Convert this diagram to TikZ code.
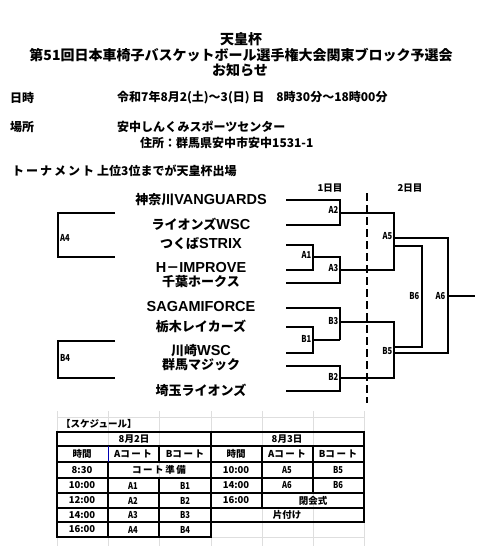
\documentclass[tikz,border=0pt]{standalone}
\usepackage{fontspec}
\usepackage{graphicx}
\setmainfont{Noto Sans CJK JP}
\newfontfamily\latfont{Liberation Sans}
\newcommand\lat[1]{{\latfont\bfseries\fontsize{14.5}{14}\selectfont #1}}
\newcommand\cnd[1]{\scalebox{0.8}[1]{#1}}
\tikzset{
  titletext/.style={font=\fontsize{14}{16}\selectfont\bfseries, inner sep=0},
  infotext/.style={font=\fontsize{12}{14}\selectfont\bfseries, inner sep=0, anchor=west},
  teamtext/.style={font=\fontsize{13}{14}\selectfont\bfseries, inner sep=0},
  matchlbl/.style={font=\fontsize{9.5}{10}\selectfont\bfseries, inner sep=0, anchor=east},
  daylbl/.style={font=\fontsize{9.5}{10}\selectfont\bfseries, inner sep=0},
  brline/.style={line width=1.1pt},
  gridline/.style={draw=black!13, line width=0.8pt},
  tbh/.style={line width=1.6pt},
  tbv/.style={line width=1.1pt},
  celltext/.style={font=\fontsize{9.5}{10}\selectfont\bfseries, inner sep=0},
}
\begin{document}
\begin{tikzpicture}[x=1pt,y=-1pt]
\fill[white] (0,0) rectangle (493,546);
\useasboundingbox (0,0) rectangle (493,546);

% ---------- title ----------
\node[titletext] (ti1) at (241,39) {天皇杯};
\node[titletext] (ti2) at (241,55) {第51回日本車椅子バスケットボール選手権大会関東ブロック予選会};
\node[titletext] (ti3) at (240,70) {お知らせ};

% ---------- info ----------
\node[infotext] (i1) at (10,98) {日時};
\node[infotext] (i2) at (117,98) {令和7年8月2(土)～3(日) 日　8時30分～18時00分};
\node[infotext] (i3) at (10,127) {場所};
\node[infotext] (i4) at (117,127) {安中しんくみスポーツセンター};
\node[infotext] (i5) at (140,143) {住所：群馬県安中市安中1531-1};
\node[infotext] (i6) at (12,171) {ト\,ー\,ナ\,メ\,ン\,ト};
\node[infotext] (i7) at (97,171) {上位3位までが天皇杯出場};

% ---------- teams ----------
\node[teamtext] (t1) at (201,200) {神奈川\lat{VANGUARDS}};
\node[teamtext] (t2) at (201,224) {ライオンズ\lat{WSC}};
\node[teamtext] (t3) at (201,244) {つくば\lat{STRIX}};
\node[teamtext] (t4) at (201,268) {\lat{H}－\lat{IMPROVE}};
\node[teamtext] (t5) at (201,282) {千葉ホークス};
\node[teamtext] (t6) at (201,307) {\lat{SAGAMIFORCE}};
\node[teamtext] (t7) at (201,326) {栃木レイカーズ};
\node[teamtext] (t8) at (201,351) {川崎\lat{WSC}};
\node[teamtext] (t9) at (201,365) {群馬マジック};
\node[teamtext] (t10) at (201,390) {埼玉ライオンズ};

% day labels
\node[daylbl] (d1) at (330,188) {1日目};
\node[daylbl] (d2) at (410,188) {2日目};
\coordinate (dashtop) at (367,193);
\coordinate (dashbot) at (367,403);
\draw[line width=2.4pt, dash pattern=on 8pt off 4pt] (dashtop) -- (dashbot);

% ---------- bracket ----------
% A2
\draw[brline] (286,200) -- (340,200) -- (340,225) -- (286,225);
\coordinate (A2) at (340,213);
% A1
\draw[brline] (286,245) -- (313,245) -- (313,271);
\draw[brline] (286,270) -- (313,270);
\coordinate (A1) at (313,257);
% A3
\draw[brline] (A1) -- (340,257) -- (340,283) -- (286,283);
\coordinate (A3) at (340,270);
% A5
\coordinate (A5) at (394,238);
\draw[brline] (A2) -- (394,213) -- (394,270) -- (A3);
% B3
\draw[brline] (286,308) -- (340,308) -- (340,340);
\coordinate (B3) at (340,322);
% B1
\draw[brline] (286,327) -- (313,327) -- (313,353) -- (286,353);
\coordinate (B1) at (313,340);
\draw[brline] (B1) -- (340,340);
% B2
\draw[brline] (286,366) -- (340,366) -- (340,391) -- (286,391);
\coordinate (B2) at (340,378);
% B5
\coordinate (B5) at (394,353);
\draw[brline] (B3) -- (394,322) -- (394,378) -- (B2);
% B6 and A6
\coordinate (B6) at (422,296);
\coordinate (A6) at (448,296);
\coordinate (win) at (475,296);
\draw[brline] (394,246) -- (422,246) -- (422,347) -- (394,347);
\draw[brline] (A5) -- (448,238) -- (448,353) -- (B5);
\draw[brline] (A6) -- (win);
% A4, B4
\draw[brline] (115,213) -- (58,213) -- (58,258);
\draw[brline] (58,257) -- (115,257);
\coordinate (A4) at (58,236);
\draw[brline] (115,341) -- (58,341) -- (58,379);
\draw[brline] (58,378) -- (115,378);
\coordinate (B4) at (58,357);

% match labels
\node[matchlbl] (lA2) at (338.5,210) {\cnd{A2}};
\node[matchlbl] (lA1) at (311.5,255) {\cnd{A1}};
\node[matchlbl] (lA3) at (338.5,268) {\cnd{A3}};
\node[matchlbl] (lA5) at (392.5,236) {\cnd{A5}};
\node[matchlbl] (lB3) at (338.5,321) {\cnd{B3}};
\node[matchlbl] (lB1) at (311.5,339) {\cnd{B1}};
\node[matchlbl] (lB2) at (338.5,377) {\cnd{B2}};
\node[matchlbl] (lB5) at (392.5,351) {\cnd{B5}};
\node[matchlbl] (lB6) at (419.5,296) {\cnd{B6}};
\node[matchlbl] (lA6) at (445.5,296) {\cnd{A6}};
\node[matchlbl, anchor=west] (lA4) at (60,238) {\cnd{A4}};
\node[matchlbl, anchor=west] (lB4) at (60,358) {\cnd{B4}};

% ---------- schedule ----------
\foreach \gx in {57,108,159,211,262,313,364} {\draw[gridline] (\gx,411) -- (\gx,546);}
\draw[gridline] (57,417) -- (364,417);
\draw[gridline] (211,537) -- (364,537);

\node[celltext, anchor=west] (sch) at (61,424) {【スケジュール】};

% day 1
\draw[tbh] (57,432) rectangle (211,537);
\foreach \gy in {446,462,478,493,508,522} {\draw[tbh] (57,\gy) -- (211,\gy);}
\draw[blue!70!black, line width=1pt] (108,446) -- (108,462);
\draw[tbv] (108,462) -- (108,537);
\draw[tbv] (159,446) -- (159,462);
\draw[tbv] (159,478) -- (159,537);
% day 2
\draw[tbh] (211,432) rectangle (364,522);
\foreach \gy in {446,462,478,493,508} {\draw[tbh] (211,\gy) -- (364,\gy);}
\draw[tbv] (262,446) -- (262,508);
\draw[tbv] (313,446) -- (313,493);

% day 1 text
\node[celltext] (c1) at (134,439) {8月2日};
\node[celltext] (c2) at (82,454) {時間};
\node[celltext] (c3) at (133,454) {Aコ\,ー\,ト};
\node[celltext] (c4) at (185,454) {Bコ\,ー\,ト};
\node[celltext] (c5) at (82,470) {8:30};
\node[celltext] (c6) at (159,470) {コ\,ー\,ト\,準\,備};
\node[celltext] (c7) at (82,485.5) {10:00};
\node[celltext] (c8) at (133,485.5) {\cnd{A1}};
\node[celltext] (c9) at (185,485.5) {\cnd{B1}};
\node[celltext] (c10) at (82,500.5) {12:00};
\node[celltext] (c11) at (133,500.5) {\cnd{A2}};
\node[celltext] (c12) at (185,500.5) {\cnd{B2}};
\node[celltext] (c13) at (82,515) {14:00};
\node[celltext] (c14) at (133,515) {\cnd{A3}};
\node[celltext] (c15) at (185,515) {\cnd{B3}};
\node[celltext] (c16) at (82,529.5) {16:00};
\node[celltext] (c17) at (133,529.5) {\cnd{A4}};
\node[celltext] (c18) at (185,529.5) {\cnd{B4}};
% day 2 text
\node[celltext] (e1) at (287,439) {8月3日};
\node[celltext] (e2) at (236,454) {時間};
\node[celltext] (e3) at (287,454) {Aコ\,ー\,ト};
\node[celltext] (e4) at (338,454) {Bコ\,ー\,ト};
\node[celltext] (e5) at (236,470) {10:00};
\node[celltext] (e6) at (287,470) {\cnd{A5}};
\node[celltext] (e7) at (338,470) {\cnd{B5}};
\node[celltext] (e8) at (236,485.5) {14:00};
\node[celltext] (e9) at (287,485.5) {\cnd{A6}};
\node[celltext] (e10) at (338,485.5) {\cnd{B6}};
\node[celltext] (e11) at (236,500.5) {16:00};
\node[celltext] (e12) at (313,500.5) {閉会式};
\node[celltext] (e13) at (287,515) {片付け};
\end{tikzpicture}
\end{document}
